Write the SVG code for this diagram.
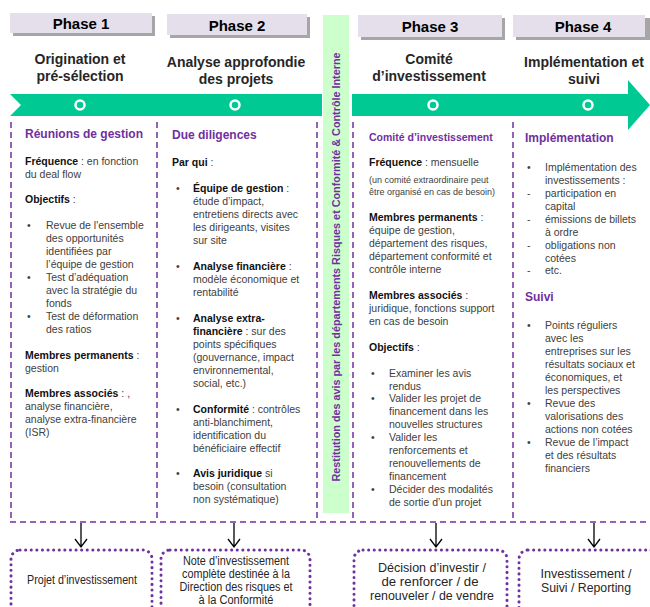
<svg xmlns="http://www.w3.org/2000/svg" width="650" height="607" viewBox="0 0 650 607">
<defs>
<style>
.ph{fill:#e4dfea}
.sh{fill:#a6a6a6}
.pt{font:bold 15px "Liberation Sans",Arial,sans-serif;fill:#000;text-anchor:middle}
.tt{font:bold 14px "Liberation Sans",Arial,sans-serif;fill:#262626;text-anchor:middle}
.hd{font:bold 12px "Liberation Sans",Arial,sans-serif;fill:#7030a0}
.b{font:10.5px "Liberation Sans",Arial,sans-serif;fill:#404040}
.k{font-weight:bold;fill:#111}
.sm{font:9px "Liberation Sans",Arial,sans-serif;fill:#404040}
.dl{stroke:#7030a0;stroke-width:1.5;stroke-dasharray:6 4;fill:none}
.box{fill:none;stroke:#7030a0;stroke-width:3;stroke-dasharray:0.1 5.5;stroke-linecap:round}
.bt{font:12px "Liberation Sans",Arial,sans-serif;fill:#262626;text-anchor:middle}
.ar{stroke:#000;stroke-width:1.3;fill:none}
.ring{fill:none;stroke:#fff;stroke-width:2.5}
</style>
</defs>
<rect width="650" height="607" fill="#fff"/>

<!-- green timeline -->
<g id="timeline">
<polygon points="10,94 322,94 322,116 10,116 21,105" fill="#00c993"/>
<polygon points="352,94 628,94 628,80 650,105 628,130 628,116 352,116" fill="#00c993"/>
<circle class="ring" cx="80" cy="105" r="4.5"/>
<circle class="ring" cx="235" cy="105" r="4.5"/>
<circle class="ring" cx="433" cy="105" r="4.5"/>
<circle class="ring" cx="588" cy="105" r="4.5"/>
</g>

<!-- control column -->
<g id="controle">
<rect x="323" y="15" width="26" height="498" fill="#ccffcc"/>
<text transform="translate(340,267) rotate(-90)" text-anchor="middle" style="font:bold 10.8px 'Liberation Sans',Arial,sans-serif;fill:#7030a0">Restitution des avis par les départements Risques et Conformité &amp; Contrôle Interne</text>
</g>

<!-- phase headers -->
<g id="phase1">
<rect class="sh" x="13" y="16" width="142" height="20"/>
<rect class="ph" x="10" y="13" width="142" height="20"/>
<text class="pt" x="81" y="29">Phase 1</text>
<text class="tt" x="80" y="64">Origination et</text>
<text class="tt" x="80" y="81">pré-sélection</text>
</g>
<g id="phase2">
<rect class="sh" x="170" y="17" width="140" height="21"/>
<rect class="ph" x="167" y="14" width="140" height="21"/>
<text class="pt" x="237" y="31">Phase 2</text>
<text class="tt" x="236" y="67">Analyse approfondie</text>
<text class="tt" x="236" y="84">des projets</text>
</g>
<g id="phase3">
<rect class="sh" x="361" y="18" width="144" height="22"/>
<rect class="ph" x="358" y="15" width="144" height="22"/>
<text class="pt" x="430" y="32">Phase 3</text>
<text class="tt" x="429" y="64">Comité</text>
<text class="tt" x="429" y="81">d’investissement</text>
</g>
<g id="phase4">
<rect class="sh" x="516" y="18" width="134" height="22"/>
<rect class="ph" x="513" y="15" width="132" height="22"/>
<text class="pt" x="583" y="32">Phase 4</text>
<text class="tt" x="584" y="67">Implémentation et</text>
<text class="tt" x="584" y="84">suivi</text>
</g>

<!-- dashed frame -->
<g id="frame">
<line class="dl" x1="11" y1="122" x2="11" y2="520"/>
<line class="dl" x1="157" y1="122" x2="157" y2="520"/>
<line class="dl" x1="317" y1="122" x2="317" y2="520"/>
<line class="dl" x1="353" y1="122" x2="353" y2="520"/>
<line class="dl" x1="513" y1="122" x2="513" y2="520"/>
<line class="dl" x1="10" y1="522" x2="650" y2="522"/>
</g>

<!-- column 1 -->
<g id="col1">
<text class="hd" x="25" y="138">Réunions  de gestion</text>
<text class="b" x="25" y="165"><tspan class="k">Fréquence</tspan> : en fonction</text>
<text class="b" x="25" y="178">du deal flow</text>
<text class="b" x="25" y="203"><tspan class="k">Objectifs</tspan> :</text>
<text class="b" x="27" y="229">•</text>
<text class="b" x="46" y="229">Revue de l'ensemble</text>
<text class="b" x="46" y="242">des opportunités</text>
<text class="b" x="46" y="255">identifiées par</text>
<text class="b" x="46" y="268">l’équipe de gestion</text>
<text class="b" x="27" y="281">•</text>
<text class="b" x="46" y="281">Test d’adéquation</text>
<text class="b" x="46" y="294">avec la stratégie du</text>
<text class="b" x="46" y="307">fonds</text>
<text class="b" x="27" y="320">•</text>
<text class="b" x="46" y="320">Test de déformation</text>
<text class="b" x="46" y="333">des ratios</text>
<text class="b" x="25" y="359"><tspan class="k">Membres permanents</tspan> :</text>
<text class="b" x="25" y="372">gestion</text>
<text class="b" x="25" y="397"><tspan class="k">Membres associés</tspan> : ,</text>
<text class="b" x="25" y="410">analyse financière,</text>
<text class="b" x="25" y="423">analyse extra-financière</text>
<text class="b" x="25" y="436">(ISR)</text>
</g>

<!-- column 2 -->
<g id="col2">
<text class="hd" x="172" y="139">Due diligences</text>
<text class="b" x="172" y="166"><tspan class="k">Par qui</tspan> :</text>
<text class="b" x="176" y="192">•</text>
<text class="b" x="193" y="192"><tspan class="k">Équipe de gestion</tspan> :</text>
<text class="b" x="193" y="205">étude d’impact,</text>
<text class="b" x="193" y="218">entretiens directs avec</text>
<text class="b" x="193" y="231">les dirigeants, visites</text>
<text class="b" x="193" y="244">sur site</text>
<text class="b" x="176" y="270">•</text>
<text class="b" x="193" y="270"><tspan class="k">Analyse  financière</tspan> :</text>
<text class="b" x="193" y="283">modèle économique et</text>
<text class="b" x="193" y="296">rentabilité</text>
<text class="b" x="176" y="322">•</text>
<text class="b" x="193" y="322"><tspan class="k">Analyse  extra-</tspan></text>
<text class="b" x="193" y="335"><tspan class="k">financière</tspan> : sur des</text>
<text class="b" x="193" y="348">points spécifiques</text>
<text class="b" x="193" y="361">(gouvernance, impact</text>
<text class="b" x="193" y="374">environnemental,</text>
<text class="b" x="193" y="387">social, etc.)</text>
<text class="b" x="176" y="413">•</text>
<text class="b" x="193" y="413"><tspan class="k">Conformité</tspan> : contrôles</text>
<text class="b" x="193" y="426">anti-blanchiment,</text>
<text class="b" x="193" y="439">identification du</text>
<text class="b" x="193" y="452">bénéficiaire effectif</text>
<text class="b" x="176" y="477">•</text>
<text class="b" x="193" y="477"><tspan class="k">Avis juridique</tspan> si</text>
<text class="b" x="193" y="490">besoin (consultation</text>
<text class="b" x="193" y="503">non systématique)</text>
</g>

<!-- column 3 -->
<g id="col3">
<text class="hd" x="369" y="141" style="font-size:10.5px">Comité d’investissement</text>
<text class="b" x="369" y="166"><tspan class="k">Fréquence</tspan> : mensuelle</text>
<text class="sm" x="369" y="183">(un comité extraordinaire peut</text>
<text class="sm" x="369" y="195">être organisé en cas de besoin)</text>
<text class="b" x="369" y="221"><tspan class="k">Membres permanents</tspan> :</text>
<text class="b" x="369" y="234">équipe de gestion,</text>
<text class="b" x="369" y="247">département des risques,</text>
<text class="b" x="369" y="260">département conformité et</text>
<text class="b" x="369" y="273">contrôle interne</text>
<text class="b" x="369" y="299"><tspan class="k">Membres associés</tspan> :</text>
<text class="b" x="369" y="312">juridique, fonctions support</text>
<text class="b" x="369" y="325">en cas de  besoin</text>
<text class="b" x="369" y="351"><tspan class="k">Objectifs</tspan> :</text>
<text class="b" x="371" y="377">•</text>
<text class="b" x="389" y="377">Examiner les avis</text>
<text class="b" x="389" y="390">rendus</text>
<text class="b" x="371" y="402">•</text>
<text class="b" x="389" y="402">Valider les projet de</text>
<text class="b" x="389" y="415">financement dans les</text>
<text class="b" x="389" y="428">nouvelles structures</text>
<text class="b" x="371" y="441">•</text>
<text class="b" x="389" y="441">Valider les</text>
<text class="b" x="389" y="454">renforcements et</text>
<text class="b" x="389" y="467">renouvellements de</text>
<text class="b" x="389" y="480">financement</text>
<text class="b" x="371" y="493">•</text>
<text class="b" x="389" y="493">Décider des modalités</text>
<text class="b" x="389" y="506">de sortie d’un projet</text>
</g>

<!-- column 4 -->
<g id="col4">
<text class="hd" x="525" y="142">Implémentation</text>
<text class="b" x="527" y="171">•</text>
<text class="b" x="545" y="171">Implémentation des</text>
<text class="b" x="545" y="184">investissements :</text>
<text class="b" x="527" y="197">-</text>
<text class="b" x="545" y="197">participation en</text>
<text class="b" x="545" y="210">capital</text>
<text class="b" x="527" y="223">-</text>
<text class="b" x="545" y="223">émissions de billets</text>
<text class="b" x="545" y="236">à ordre</text>
<text class="b" x="527" y="249">-</text>
<text class="b" x="545" y="249">obligations non</text>
<text class="b" x="545" y="262">cotées</text>
<text class="b" x="527" y="274">-</text>
<text class="b" x="545" y="274">etc.</text>
<text class="hd" x="525" y="301">Suivi</text>
<text class="b" x="527" y="329">•</text>
<text class="b" x="545" y="329">Points réguliers</text>
<text class="b" x="545" y="342">avec les</text>
<text class="b" x="545" y="355">entreprises sur les</text>
<text class="b" x="545" y="368">résultats sociaux et</text>
<text class="b" x="545" y="381">économiques, et</text>
<text class="b" x="545" y="394">les perspectives</text>
<text class="b" x="527" y="407">•</text>
<text class="b" x="545" y="407">Revue des</text>
<text class="b" x="545" y="420">valorisations des</text>
<text class="b" x="545" y="433">actions non cotées</text>
<text class="b" x="527" y="446">•</text>
<text class="b" x="545" y="446">Revue de l’impact</text>
<text class="b" x="545" y="459">et des résultats</text>
<text class="b" x="545" y="472">financiers</text>
</g>

<!-- connectors -->
<g id="connectors">
<path class="ar" d="M81,523 V547 M75,539 L81,547 L87,539"/>
<path class="ar" d="M234,523 V547 M228,539 L234,547 L240,539"/>
<path class="ar" d="M436,523 V547 M430,539 L436,547 L442,539"/>
<path class="ar" d="M594,523 V547 M588,539 L594,547 L600,539"/>
</g>

<!-- outcome boxes -->
<g id="out1">
<rect class="box" x="11" y="550" width="141" height="70" rx="9"/>
<text class="bt" x="82" y="584" textLength="110" lengthAdjust="spacingAndGlyphs">Projet d’investissement</text>
</g>
<g id="out2">
<rect class="box" x="161" y="550" width="149" height="70" rx="9"/>
<text class="bt" x="236" y="565" textLength="106" lengthAdjust="spacingAndGlyphs">Note d’investissement</text>
<text class="bt" x="236" y="578" textLength="108" lengthAdjust="spacingAndGlyphs">complète destinée à la</text>
<text class="bt" x="236" y="591" textLength="113" lengthAdjust="spacingAndGlyphs">Direction des risques et</text>
<text class="bt" x="236" y="604" textLength="75" lengthAdjust="spacingAndGlyphs">à la Conformité</text>
</g>
<g id="out3">
<rect class="box" x="354" y="550" width="153" height="70" rx="9"/>
<text class="bt" x="432" y="572" textLength="108" lengthAdjust="spacingAndGlyphs">Décision d’investir /</text>
<text class="bt" x="430" y="586" textLength="97" lengthAdjust="spacingAndGlyphs">de renforcer / de</text>
<text class="bt" x="432" y="600" textLength="124" lengthAdjust="spacingAndGlyphs">renouveler / de vendre</text>
</g>
<g id="out4">
<rect class="box" x="519" y="550" width="140" height="70" rx="9"/>
<text class="bt" x="586" y="578" textLength="91" lengthAdjust="spacingAndGlyphs">Investissement /</text>
<text class="bt" x="586" y="592" textLength="90" lengthAdjust="spacingAndGlyphs">Suivi / Reporting</text>
</g>
</svg>
